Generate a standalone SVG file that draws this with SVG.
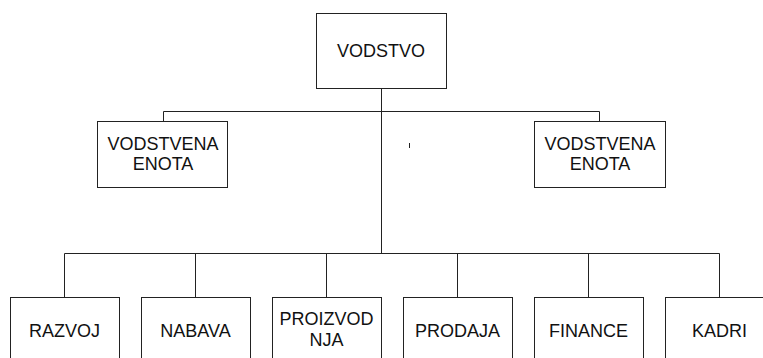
<svg xmlns="http://www.w3.org/2000/svg" width="763" height="358" viewBox="0 0 763 358">
  <style>
    .box { fill: #fff; stroke: #222; stroke-width: 1; }
    .wire { fill: none; stroke: #222; stroke-width: 1; }
    .lbl { font-family: "Liberation Sans", Arial, sans-serif; font-size: 18px; fill: #111; text-anchor: middle; }
  </style>
  <rect width="763" height="358" fill="#fff"/>

  <g id="connectors" class="wire">
    <!-- top level to management units -->
    <path d="M381.5 88.5 V253.5"/>
    <path d="M163.5 121.5 V111.5 H599.5 V121.5"/>
    <!-- bus to departments -->
    <path d="M64.5 297.5 V253.5 H719.5 V297.5"/>
    <path d="M195.5 253.5 V297.5"/>
    <path d="M326.5 253.5 V297.5"/>
    <path d="M457.5 253.5 V297.5"/>
    <path d="M588.5 253.5 V297.5"/>
    <!-- small stray mark -->
    <path d="M409.5 143 V148"/>
  </g>

  <g id="vodstvo">
    <rect class="box" x="316.5" y="13.5" width="130" height="75"/>
    <text class="lbl" x="381" y="57">VODSTVO</text>
  </g>

  <g id="enota-left">
    <rect class="box" x="97.5" y="121.5" width="130" height="66"/>
    <text class="lbl" x="163" y="150">VODSTVENA</text>
    <text class="lbl" x="163" y="170">ENOTA</text>
  </g>

  <g id="enota-right">
    <rect class="box" x="534.5" y="121.5" width="131" height="66"/>
    <text class="lbl" x="600" y="150">VODSTVENA</text>
    <text class="lbl" x="600" y="170">ENOTA</text>
  </g>

  <g id="razvoj">
    <rect class="box" x="10.5" y="297.5" width="109" height="75"/>
    <text class="lbl" x="64.5" y="337">RAZVOJ</text>
  </g>

  <g id="nabava">
    <rect class="box" x="141.5" y="297.5" width="109" height="75"/>
    <text class="lbl" x="195.5" y="337">NABAVA</text>
  </g>

  <g id="proizvodnja">
    <rect class="box" x="272.5" y="297.5" width="109" height="75"/>
    <text class="lbl" x="326.5" y="325">PROIZVOD</text>
    <text class="lbl" x="326.5" y="346">NJA</text>
  </g>

  <g id="prodaja">
    <rect class="box" x="403.5" y="297.5" width="109" height="75"/>
    <text class="lbl" x="457.5" y="337">PRODAJA</text>
  </g>

  <g id="finance">
    <rect class="box" x="534.5" y="297.5" width="109" height="75"/>
    <text class="lbl" x="588.5" y="337">FINANCE</text>
  </g>

  <g id="kadri">
    <rect class="box" x="665.5" y="297.5" width="109" height="75"/>
    <text class="lbl" x="719.5" y="337">KADRI</text>
  </g>
</svg>
